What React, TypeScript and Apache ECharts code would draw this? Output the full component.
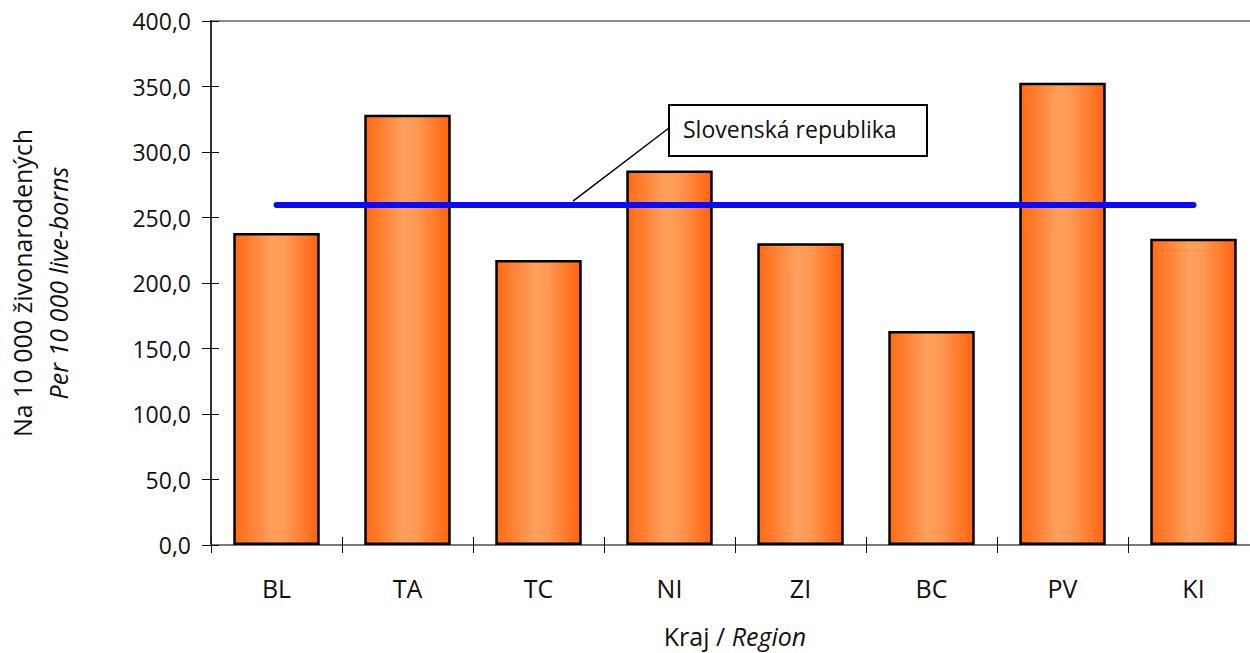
import React, { useEffect, useRef } from "react";
import * as echarts from "echarts";

// Regions of Slovakia
const regions = ["BL", "TA", "TC", "NI", "ZI", "BC", "PV", "KI"];
// Rate per 10 000 live-borns by region
const regionValues = [238.2, 328.5, 217.6, 285.8, 230.3, 163.4, 352.8, 233.8];
// Slovak Republic average
const nationalValue = 259.5;
const nationalLabel = "Slovenská republika";
const yTicks = { min: 0, max: 400, interval: 50 };

const FONT = "'Open Sans', 'Noto Sans', sans-serif";

export default function App() {
  const ref = useRef<HTMLDivElement>(null);

  useEffect(() => {
    if (!ref.current) return;
    const chart = echarts.init(ref.current, null, { renderer: "svg" });

    const barGradient = new echarts.graphic.LinearGradient(0, 0, 1, 0, [
      { offset: 0, color: "#ff6a12" },
      { offset: 0.45, color: "#ffa05e" },
      { offset: 0.6, color: "#ff9a55" },
      { offset: 1, color: "#ff640e" },
    ]);

    const fmt = (v: number) => v.toFixed(1).replace(".", ",");

    chart.setOption({
      animation: false,
      backgroundColor: "#ffffff",
      textStyle: { fontFamily: FONT },
      grid: {
        left: 211,
        top: 21,
        right: -9,
        bottom: 108,
        containLabel: false,
        outerBoundsMode: "none",
        show: true,
        borderColor: "#8a8a8a",
        borderWidth: 2,
      },
      xAxis: [
        {
          type: "category",
          data: regions,
          axisLine: { lineStyle: { color: "#7a7a7a", width: 2 } },
          axisTick: { show: true, length: 8, lineStyle: { color: "#111", width: 1 } },
          axisLabel: { fontSize: 25, color: "#111", margin: 30, fontFamily: FONT },
          name: "{n|Kraj / }{i|Region}",
          nameLocation: "middle",
          nameGap: 78,
          nameTextStyle: {
            rich: {
              n: { fontSize: 25, color: "#111", fontFamily: FONT },
              i: { fontSize: 25, color: "#111", fontStyle: "italic", fontFamily: FONT },
            },
          },
        },
        {
          type: "category",
          data: regions,
          position: "bottom",
          axisLine: { show: false },
          axisTick: { show: true, inside: true, length: 8, lineStyle: { color: "#111", width: 1 } },
          axisLabel: { show: false },
        },
      ],
      yAxis: [
        {
          type: "value",
          min: yTicks.min,
          max: yTicks.max,
          interval: yTicks.interval,
          splitLine: { show: false },
          axisLine: { show: true, lineStyle: { color: "#333", width: 2 } },
          axisTick: { show: true, length: 9, lineStyle: { color: "#111", width: 1 } },
          axisLabel: { fontSize: 23, color: "#111", margin: 20, formatter: fmt, fontFamily: FONT },
          name: "{n|Na 10 000 živonarodených}\n{i|Per 10 000 live-borns}",
          nameLocation: "middle",
          nameRotate: 90,
          nameGap: 135,
          nameTextStyle: {
            rich: {
              n: { fontSize: 25, color: "#111", fontFamily: FONT, lineHeight: 36, align: "center" },
              i: { fontSize: 25, color: "#111", fontStyle: "italic", fontFamily: FONT, lineHeight: 36, align: "center" },
            },
          },
        },
        {
          type: "value",
          min: yTicks.min,
          max: yTicks.max,
          interval: yTicks.interval,
          position: "left",
          splitLine: { show: false },
          axisLine: { show: false },
          axisTick: { show: true, inside: true, length: 8, lineStyle: { color: "#111", width: 1 } },
          axisLabel: { show: false },
        },
      ],
      series: [
        {
          type: "bar",
          data: regionValues,
          barCategoryGap: "34%",
          itemStyle: { color: barGradient, borderColor: "#000", borderWidth: 2.5 },
          z: 2,
        },
        {
          type: "line",
          data: regions.map(() => nationalValue),
          symbol: "none",
          lineStyle: { color: "#0a0aff", width: 6, cap: "round" },
          z: 3,
        },
      ],
    });

    // Callout box with a leader line pointing at the national average line
    const yLine = chart.convertToPixel({ yAxisIndex: 0 }, nationalValue) as number;
    chart.setOption({
      graphic: [
        {
          type: "line",
          shape: { x1: 573, y1: yLine - 4, x2: 669, y2: 128 },
          style: { stroke: "#000", lineWidth: 1.5 },
          z: 10,
        },
        {
          type: "rect",
          shape: { x: 669, y: 105, width: 258, height: 51 },
          style: { fill: "#fff", stroke: "#000", lineWidth: 2 },
          z: 10,
        },
        {
          type: "text",
          x: 683,
          y: 129,
          style: {
            text: nationalLabel,
            fontSize: 23,
            fontFamily: FONT,
            fill: "#111",
            verticalAlign: "middle",
          },
          z: 11,
        },
      ],
    });

    return () => chart.dispose();
  }, []);

  return <div ref={ref} style={{ width: 1250, height: 653, position: "absolute", left: 0, top: 0 }} />;
}
